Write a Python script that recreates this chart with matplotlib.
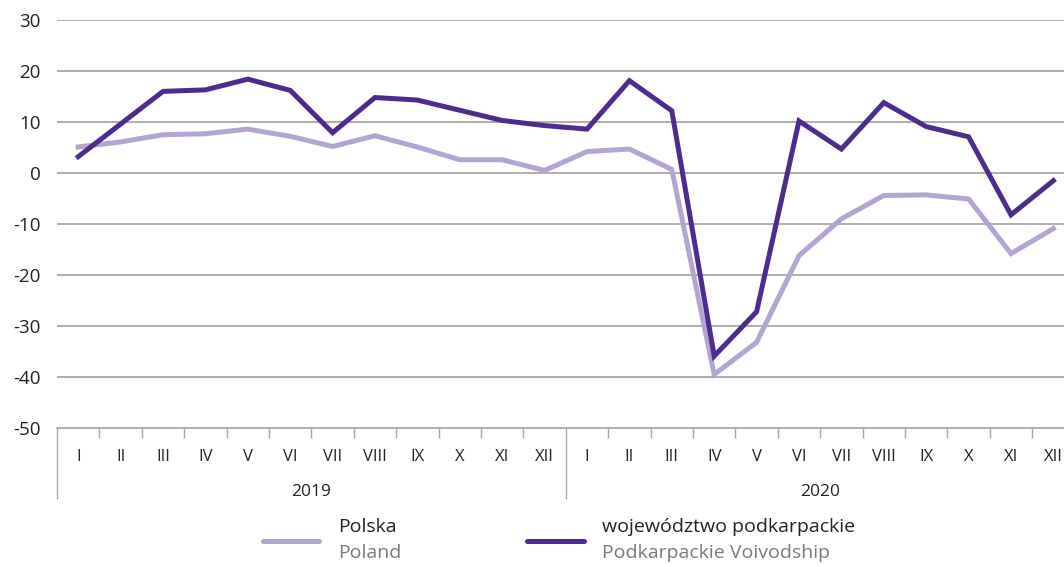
import numpy as np
import matplotlib.pyplot as plt
from matplotlib.lines import Line2D

plt.rcParams['font.family'] = ['Open Sans', 'DejaVu Sans']

months = ['I', 'II', 'III', 'IV', 'V', 'VI', 'VII', 'VIII', 'IX', 'X', 'XI', 'XII']
years = ['2019', '2020']

# Polska / Poland
polska = [5.1, 6.1, 7.5, 7.7, 8.6, 7.2, 5.2, 7.3, 5.1, 2.6, 2.6, 0.5,
          4.2, 4.7, 0.7, -39.5, -33.2, -16.2, -9.0, -4.4, -4.3, -5.1, -15.8, -10.9]
# województwo podkarpackie / Podkarpackie Voivodship
podkarpackie = [3.2, 9.6, 16.0, 16.3, 18.4, 16.2, 7.9, 14.8, 14.3, 12.3, 10.3, 9.3,
                8.6, 18.1, 12.2, -35.9, -27.2, 10.2, 4.7, 13.8, 9.1, 7.1, -8.2, -1.5]

dark = '#4E2C8E'
light = '#B3A4D1'
grid_c = '#A8A8A8'
txt_c = '#222222'

fig = plt.figure(figsize=(10.64, 5.67), dpi=100)
ax = fig.add_axes([57/1064, 1 - 428/567, 24*42.4/1064, 408/567])

x = np.arange(len(polska))
ax.plot(x, polska, color=light, lw=3.6, solid_joinstyle='miter', zorder=3)
ax.plot(x, podkarpackie, color=dark, lw=3.6, solid_joinstyle='miter', zorder=4)

ax.set_xlim(-0.5, 23.5)
ax.set_ylim(-50, 30)
ax.set_yticks(np.arange(-50, 31, 10))
ax.set_yticklabels([str(v) for v in range(-50, 31, 10)], fontsize=13.5, color=txt_c)
ax.tick_params(axis='y', length=0, pad=12)
for v in range(-40, 31, 10):
    ax.axhline(v, color=grid_c, lw=1.3, zorder=1)

for s in ['top', 'right', 'left']:
    ax.spines[s].set_visible(False)
ax.spines['bottom'].set_color(grid_c)
ax.spines['bottom'].set_linewidth(1.3)

# short ticks between months
ax.set_xticks([i + 0.5 for i in range(23) if i != 11])
ax.set_xticklabels([])
ax.tick_params(axis='x', length=7, width=1.0, color=grid_c, direction='out')

# long separators at the left edge and between years
trans = ax.get_xaxis_transform()
for xs in [-0.5, 11.5]:
    ax.add_line(Line2D([xs, xs], [0, -70/408], transform=trans, color=grid_c,
                       lw=1.0, clip_on=False))

labels = months * 2
for i, lab in enumerate(labels):
    ax.annotate(lab, xy=(i, 0), xycoords=trans, xytext=(0, -29*0.72),
                textcoords='offset points', ha='center', va='center',
                fontsize=12, color=txt_c)
for j, yr in enumerate(years):
    ax.annotate(yr, xy=(j*12 + 5.5, 0), xycoords=trans, xytext=(0, -64*0.72),
                textcoords='offset points', ha='center', va='center',
                fontsize=12.5, color=txt_c)

# legend
def legend_entry(x0, x1, xt, pl, en, color):
    fig.add_artist(Line2D([x0/1064, x1/1064], [1 - 541/567]*2, color=color,
                          lw=3.6, solid_capstyle='round'))
    fig.text(xt/1064, 1 - 527/567, pl, fontsize=14, color=txt_c, va='center')
    fig.text(xt/1064, 1 - 553/567, en, fontsize=14, color='#7A7A7A', va='center')

legend_entry(263, 319, 338, 'Polska', 'Poland', light)
legend_entry(527, 584, 602, 'województwo podkarpackie', 'Podkarpackie Voivodship', dark)

fig.savefig('out.png', dpi=100)
